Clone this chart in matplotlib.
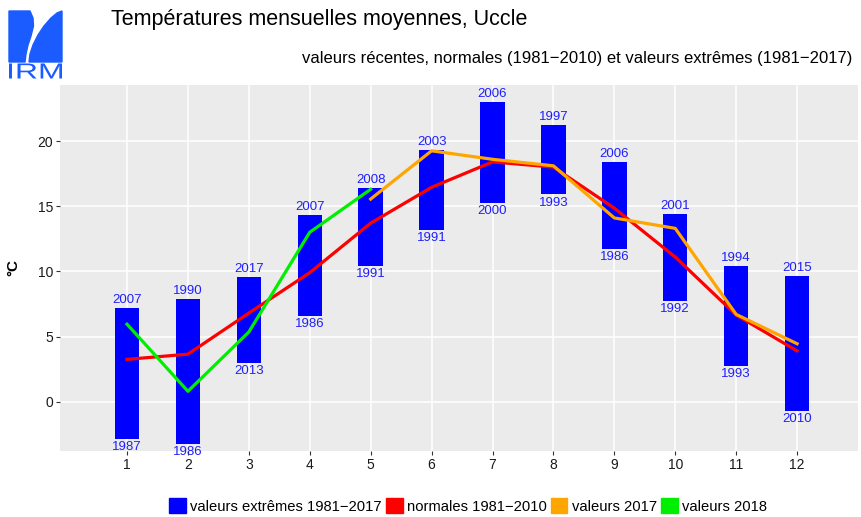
import matplotlib
matplotlib.use("Agg")
import matplotlib.pyplot as plt
from matplotlib.patches import Patch, Polygon, PathPatch
from matplotlib.textpath import TextPath
from matplotlib.font_manager import FontProperties
from matplotlib.transforms import Affine2D

plt.rcParams['font.family'] = ['Liberation Sans', 'DejaVu Sans']

# donnees
mois = [1, 2, 3, 4, 5, 6, 7, 8, 9, 10, 11, 12]
ext_max = [7.2, 7.9, 9.6, 14.3, 16.4, 19.3, 23.0, 21.2, 18.4, 14.4, 10.4, 9.65]
ext_min = [-2.85, -3.25, 3.0, 6.6, 10.4, 13.2, 15.25, 15.9, 11.7, 7.75, 2.75, -0.7]
annee_max = ['2007', '1990', '2017', '2007', '2008', '2003', '2006', '1997', '2006', '2001', '1994', '2015']
annee_min = ['1987', '1986', '2013', '1986', '1991', '1991', '2000', '1993', '1986', '1992', '1993', '2010']
normales = [3.25, 3.65, 6.8, 9.9, 13.7, 16.45, 18.4, 18.0, 14.85, 11.1, 6.65, 3.9]
mois_2017 = [5, 6, 7, 8, 9, 10, 11, 12]
val_2017 = [15.55, 19.25, 18.6, 18.1, 14.1, 13.3, 6.7, 4.45]
mois_2018 = [1, 2, 3, 4, 5]
val_2018 = [5.95, 0.8, 5.35, 13.0, 16.3]

W, H = 861, 517
fig = plt.figure(figsize=(W / 100, H / 100), dpi=100)
ax = fig.add_axes([60 / W, (H - 451) / H, (858 - 60) / W, (451 - 85) / H])
ax.set_facecolor('#EBEBEB')
for s in ax.spines.values():
    s.set_visible(False)

ax.set_xlim(-0.1, 13.0)
ax.set_ylim(-3.78, 24.3)
ax.set_xticks(mois)
ax.set_yticks([0, 5, 10, 15, 20])
ax.grid(True, color='white', linewidth=1.1)
ax.set_axisbelow(True)
ax.tick_params(length=3, width=0.8, color='#333333', labelsize=10, labelcolor='#1a1a1a', pad=2)

hauteurs = [a - b for a, b in zip(ext_max, ext_min)]
ax.bar(mois, hauteurs, bottom=ext_min, width=0.4, color='blue', zorder=2)
for m, hi, lo, ah, al in zip(mois, ext_max, ext_min, annee_max, annee_min):
    ax.annotate(ah, (m, hi), xytext=(0, 1.5), textcoords='offset points',
                ha='center', va='bottom', color='#1f1fff', fontsize=9.5, zorder=4)
    ax.annotate(al, (m, lo), xytext=(0, -1.5), textcoords='offset points',
                ha='center', va='top', color='#1f1fff', fontsize=9.5, zorder=4)

ax.plot(mois, normales, color='red', linewidth=2.3, zorder=3)
ax.plot(mois_2017, val_2017, color='orange', linewidth=2.3, zorder=3)
ax.plot(mois_2018, val_2018, color='#00ee00', linewidth=2.3, zorder=3)

ax.set_ylabel('°C', fontsize=11, fontweight='bold', labelpad=12)

fig.text(111 / W, 1 - 20 / H, 'Températures mensuelles moyennes, Uccle',
         fontsize=15.5, va='center', ha='left')
fig.text(852 / W, 1 - 58 / H,
         'valeurs récentes, normales (1981\u22122010) et valeurs extrêmes (1981\u22122017)',
         fontsize=12, va='center', ha='right')

handles = [Patch(color='blue'), Patch(color='red'), Patch(color='orange'), Patch(color='#00ee00')]
labels = ['valeurs extrêmes 1981\u22122017', 'normales 1981\u22122010', 'valeurs 2017', 'valeurs 2018']
fig.legend(handles, labels, loc='center', bbox_to_anchor=(468 / W, 1 - 506 / H), ncol=4,
           frameon=False, fontsize=10.6, handlelength=1.15, handleheight=1.15,
           handletextpad=0.3, columnspacing=0.25)

# logo IRM
bleu_logo = '#1a5cff'
lg = fig.add_axes([0, 0, 1, 1], zorder=-1)
lg.set_xlim(0, W)
lg.set_ylim(H, 0)
lg.axis('off')
gauche = [(9, 11), (30, 11), (33, 18), (33.5, 26), (31, 36), (28, 45), (26, 54), (25, 62), (9, 62)]
droite = [(62, 11), (62, 62), (29, 62), (30, 54), (33, 45), (38, 35), (44, 26), (51, 18), (57, 13)]
lg.add_patch(Polygon(gauche, closed=True, color=bleu_logo))
lg.add_patch(Polygon(droite, closed=True, color=bleu_logo))
tp = TextPath((0, 0), 'IRM', size=1, prop=FontProperties(family='Liberation Sans'))
bb = tp.get_extents()
tr = Affine2D().translate(-bb.x0, -bb.y0).scale(53 / bb.width, -15 / bb.height).translate(9, 78.5)
lg.add_patch(PathPatch(tr.transform_path(tp), color=bleu_logo, lw=0))

fig.savefig('out.png', dpi=100)
